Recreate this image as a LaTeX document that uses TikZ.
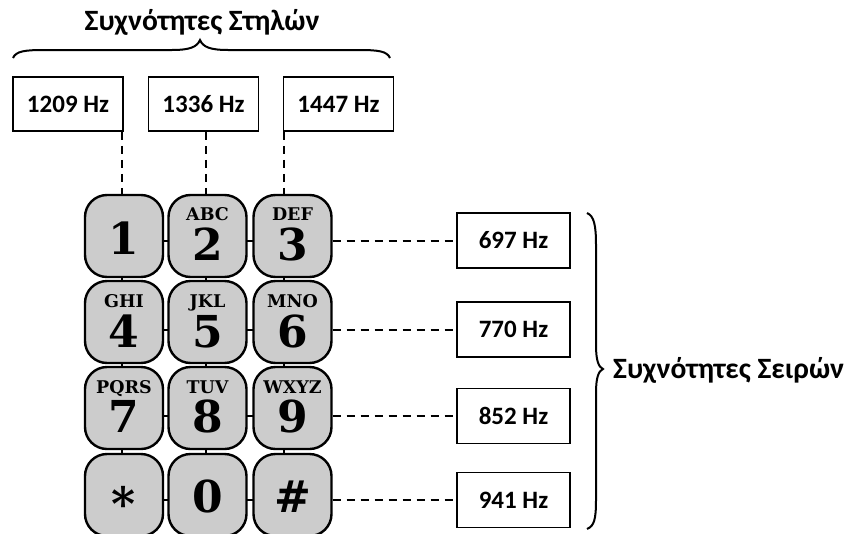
\documentclass[tikz,border=0pt]{standalone}
\usepackage{fontspec}
\setmainfont{Carlito}
\newfontfamily\keyfont{DejaVu Serif}
\usetikzlibrary{calc}
\definecolor{keygray}{RGB}{204,204,204}
\begin{document}
\begin{tikzpicture}[x=1pt,y=-1pt,
  key/.style={draw, line width=2.4pt, fill=keygray, rounded corners=22pt,
    minimum width=78pt, minimum height=82pt, inner sep=0pt},
  freqbox/.style={draw, line width=1.8pt, fill=white, minimum width=110pt,
    minimum height=54pt, inner sep=0pt, font=\fontsize{25}{29}\selectfont\bfseries},
  rowbox/.style={freqbox, minimum width=113pt, minimum height=55pt},
  dashline/.style={line width=2pt, dash pattern=on 8pt off 6pt},
  gridline/.style={line width=2pt},
  digit/.style={font=\keyfont\fontsize{44}{48}\selectfont\bfseries, inner sep=0pt, anchor=base},
  letters/.style={font=\keyfont\fontsize{17.5}{20}\selectfont\bfseries, inner sep=0pt, anchor=base},
  bracepath/.style={line width=2pt},
  title/.style={font=\fontsize{29.5}{34}\selectfont\bfseries, inner sep=0pt}
]
\useasboundingbox (0,0) rectangle (851,533);
\clip (0,0) rectangle (851,533);

% column frequency boxes
\node[freqbox] (c1) at (68,104) {1209 Hz};
\node[freqbox] (c2) at (203.5,104) {1336 Hz};
\node[freqbox] (c3) at (338.5,104) {1447 Hz};

% row frequency boxes
\node[rowbox] (r1) at (513.5,240.5) {697 Hz};
\node[rowbox] (r2) at (513.5,329.5) {770 Hz};
\node[rowbox] (r3) at (513.5,416) {852 Hz};
\node[rowbox] (r4) at (513.5,500) {941 Hz};

% x positions of the column lines
\coordinate (v1) at (122,0);
\coordinate (v2) at (206,0);
\coordinate (v3) at (284,0);

% key centres
\coordinate (p1) at (124,236);   \coordinate (p2) at (207.5,236);  \coordinate (p3) at (292.5,236);
\coordinate (p4) at (124,322);   \coordinate (p5) at (207.5,322);  \coordinate (p6) at (292.5,322);
\coordinate (p7) at (124,408);   \coordinate (p8) at (207.5,408);  \coordinate (p9) at (292.5,408);
\coordinate (ps) at (124,495);   \coordinate (p0) at (207.5,495);  \coordinate (ph) at (292.5,495);

% grid lines running behind the keys
\draw[gridline] (p1 |- r1) -- (p3 |- r1);
\draw[gridline] (p4 |- r2) -- (p6 |- r2);
\draw[gridline] (p7 |- r3) -- (p9 |- r3);
\draw[gridline] (ps |- r4) -- (ph |- r4);
\draw[gridline] (v1 |- p1) -- (v1 |- ps);
\draw[gridline] (v2 |- p2) -- (v2 |- p0);
\draw[gridline] (v3 |- p3) -- (v3 |- ph);

% keys
\foreach \k in {1,...,9,s,0,h}{
  \node[key] (k\k) at (p\k) {};
}

% key faces
\node[digit] at ($(k1)+(0,18)$) {1};
\node[letters] at ($(k2)+(0,-16)$) {ABC};
\node[digit] at ($(k2)+(0,24)$) {2};
\node[letters] at ($(k3)+(0,-16)$) {DEF};
\node[digit] at ($(k3)+(0,24)$) {3};
\node[letters] at ($(k4)+(0,-15)$) {GHI};
\node[digit] at ($(k4)+(0,25)$) {4};
\node[letters] at ($(k5)+(0,-15)$) {JKL};
\node[digit] at ($(k5)+(0,25)$) {5};
\node[letters] at ($(k6)+(0,-15)$) {MNO};
\node[digit] at ($(k6)+(0,25)$) {6};
\node[letters] at ($(k7)+(0,-15)$) {PQRS};
\node[digit] at ($(k7)+(0,24)$) {7};
\node[letters] at ($(k8)+(0,-15)$) {TUV};
\node[digit] at ($(k8)+(0,24)$) {8};
\node[letters] at ($(k9)+(0,-15)$) {WXYZ};
\node[digit] at ($(k9)+(0,24)$) {9};
\node[digit, font=\keyfont\fontsize{46}{50}\selectfont\bfseries] at ($(ks)+(0,25)$) {*};
\node[digit] at ($(k0)+(0,17)$) {0};
\node[digit] at ($(kh)+(0,17)$) {\#};

% dashed connectors from the column boxes
\draw[dashline] (v1 |- c1.south) -- (v1 |- k1.north);
\draw[dashline] (v2 |- c2.south) -- (v2 |- k2.north);
\draw[dashline] (v3 |- c3.south) -- (v3 |- k3.north);

% dashed connectors to the row boxes
\draw[dashline] (k3.east |- r1) -- (r1.west);
\draw[dashline] (k6.east |- r2) -- (r2.west);
\draw[dashline] (k9.east |- r3) -- (r3.west);
\draw[dashline] (kh.east |- r4) -- (r4.west);

% braces
\draw[bracepath] (13,58) .. controls (16,51) and (25,50) .. (45,50) -- (172,50)
  .. controls (190,50) and (197,47) .. (200,40)
  .. controls (203,47) and (210,50) .. (228,50) -- (358,50)
  .. controls (378,50) and (387,51) .. (390,58);
\draw[bracepath] (587,213) .. controls (594,216) and (596,225) .. (596,245) -- (596,345)
  .. controls (596,362) and (599,367) .. (603,369)
  .. controls (599,371) and (596,376) .. (596,393) -- (596,500)
  .. controls (596,520) and (594,526) .. (587,529);

% titles
\node[title] (tcol) at (202,22) {Συχνότητες Στηλών};
\node[title, anchor=west] (trow) at (613,370) {Συχνότητες Σειρών};
\end{tikzpicture}
\end{document}
